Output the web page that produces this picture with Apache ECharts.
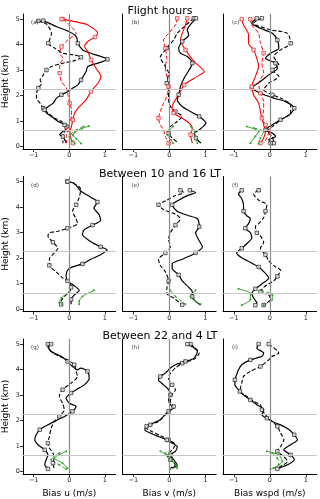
<!DOCTYPE html>
<html>
<head>
<meta charset="utf-8">
<script src="https://cdn.jsdelivr.net/npm/echarts@6/dist/echarts.min.js"></script>
<style>
  html, body { margin: 0; padding: 0; background: #fff; }
  #main { width: 320px; height: 499px; }
</style>
</head>
<body>
<div id="main"></div>
<script>
// profiles: [bias (m/s), height (km)]
var rowTitles = ['Flight hours', 'Between 10 and 16 LT', 'Between 22 and 4 LT'];
var colNames = ['Bias u (m/s)', 'Bias v (m/s)', 'Bias wspd (m/s)'];
var panelLabels = ['(a)', '(b)', '(c)', '(d)', '(e)', '(f)', '(g)', '(h)', '(i)'];
var xTicks = [-1, 0, 1];
var yTicks = [0, 1, 2, 3, 4, 5];
var refHeights = [2.25, 0.62];

// (a)
var aBlackSolid = [[-0.73,4.94],[-0.35,4.7],[0.0,4.5],[0.2,4.3],[0.24,4.05],[0.38,3.79],[0.6,3.66],[0.89,3.53],[1.07,3.42],[0.8,3.27],[0.52,3.14],[0.47,2.94],[0.33,2.61],[0.24,2.42],[0.1,2.29],[-0.04,2.16],[-0.22,2.03],[-0.36,1.9],[-0.45,1.7],[-0.59,1.57],[-0.69,1.44],[-0.64,1.31],[-0.5,1.18],[-0.31,0.98],[-0.13,0.85],[-0.04,0.72],[-0.18,0.59],[-0.27,0.46],[-0.18,0.39],[-0.13,0.26],[-0.08,0.13]];
var aBlackDash = [[-0.87,4.93],[-0.64,4.8],[-0.5,4.44],[-0.55,4.2],[-0.59,4.05],[-0.41,3.86],[-0.18,3.66],[0.15,3.59],[0.33,3.5],[0.15,3.37],[-0.18,3.27],[-0.5,3.14],[-0.64,3.0],[-0.73,2.81],[-0.82,2.61],[-0.78,2.48],[-0.87,2.29],[-0.92,2.09],[-0.92,1.9],[-0.82,1.7],[-0.73,1.5],[-0.59,1.31],[-0.41,1.11],[-0.22,0.98],[-0.08,0.78],[-0.13,0.59],[-0.18,0.39],[-0.18,0.13]];
var aRedSolid = [[-0.22,5.0],[0.05,4.93],[0.52,4.77],[0.8,4.44],[0.72,4.3],[0.52,4.12],[0.43,3.92],[0.52,3.73],[0.61,3.4],[0.75,3.07],[0.89,2.75],[0.8,2.48],[0.61,2.16],[0.47,1.83],[0.29,1.57],[0.15,1.31],[0.1,1.05],[0.06,0.78],[0.01,0.52],[0.06,0.26],[0.1,0.13]];
var aRedDash = [[-0.18,5.0],[-0.04,4.83],[0.19,4.44],[-0.04,4.18],[-0.22,3.92],[-0.27,3.66],[-0.18,3.46],[-0.27,3.2],[-0.27,2.88],[-0.22,2.55],[-0.08,2.29],[-0.04,2.03],[0.01,1.7],[0.06,1.44],[0.06,1.18],[0.01,0.92],[-0.04,0.65],[-0.08,0.39],[-0.08,0.13]];
var aGreenSolid = [[0.55,0.8],[0.35,0.7],[0.15,0.55],[0.1,0.45],[0.2,0.3],[0.33,0.12]];
var aGreenDash = [[0.4,0.78],[0.2,0.65],[0.05,0.5],[0.0,0.38],[0.1,0.2],[0.15,0.12]];

// (b)
var bBlackSolid = [[0.74,5.03],[0.62,4.84],[0.5,4.58],[0.54,4.38],[0.36,4.12],[0.26,3.86],[0.31,3.66],[0.5,3.53],[0.64,3.27],[0.55,3.0],[0.41,2.68],[0.31,2.35],[0.26,2.03],[0.22,1.83],[0.36,1.57],[0.59,1.37],[0.83,1.18],[1.02,0.92],[0.83,0.65],[0.69,0.52],[0.74,0.33],[0.88,0.13]];
var bBlackDash = [[0.68,5.03],[0.45,4.75],[0.22,4.44],[0.12,4.18],[-0.07,3.86],[-0.25,3.5],[-0.11,3.14],[-0.02,2.88],[-0.07,2.48],[-0.02,2.16],[-0.02,1.83],[0.03,1.57],[0.17,1.37],[0.36,1.18],[0.22,0.98],[0.03,0.78],[-0.02,0.52],[0.08,0.33],[0.26,0.13]];
var bRedSolid = [[0.5,5.03],[0.45,4.77],[0.36,4.44],[0.31,4.18],[0.45,3.79],[0.69,3.33],[0.97,2.94],[0.69,2.68],[0.41,2.42],[0.31,2.16],[0.17,1.83],[0.08,1.57],[0.12,1.31],[0.36,1.11],[0.55,0.92],[0.64,0.72],[0.59,0.46],[0.64,0.13]];
var bRedDash = [[0.22,5.03],[0.17,4.77],[-0.02,4.44],[-0.16,4.18],[-0.11,3.86],[-0.07,3.46],[-0.11,3.14],[-0.07,2.75],[-0.02,2.35],[-0.07,1.96],[-0.16,1.7],[-0.25,1.37],[-0.3,1.11],[-0.25,0.85],[-0.16,0.65],[-0.11,0.39],[-0.02,0.13]];
var bGreenSolid = [[0.6,0.78],[0.7,0.6],[0.72,0.4],[0.78,0.13]];
var bGreenDash = [[0.1,0.78],[0.0,0.62],[-0.05,0.45],[0.05,0.25],[0.1,0.13]];

// (c)
var cBlackSolid = [[-0.36,5.03],[-0.5,4.84],[-0.26,4.64],[0.07,4.44],[0.21,4.18],[0.25,3.86],[0.02,3.66],[-0.12,3.46],[0.16,3.27],[0.21,3.07],[-0.03,2.81],[-0.26,2.55],[-0.5,2.29],[-0.26,2.09],[0.11,1.9],[0.44,1.76],[0.68,1.5],[0.54,1.24],[0.3,1.05],[0.07,0.85],[-0.12,0.65],[0.07,0.52],[0.16,0.39],[-0.03,0.26],[0.02,0.13]];
var cBlackDash = [[-0.22,5.03],[-0.45,4.84],[0.02,4.58],[0.49,4.44],[0.58,4.05],[0.3,3.79],[0.11,3.53],[0.25,3.2],[0.07,3.0],[0.25,2.75],[-0.03,2.48],[-0.17,2.22],[0.07,2.03],[0.3,1.9],[0.58,1.63],[0.58,1.31],[0.3,1.05],[0.07,0.78],[-0.08,0.59],[0.07,0.39],[0.11,0.13]];
var cRedSolid = [[-0.78,5.0],[-0.73,4.77],[-0.59,4.38],[-0.59,4.05],[-0.45,3.79],[-0.36,3.46],[-0.31,3.14],[-0.4,2.75],[-0.5,2.35],[-0.45,2.03],[-0.31,1.7],[-0.26,1.37],[-0.22,1.11],[-0.17,0.85],[-0.12,0.59],[-0.17,0.33],[-0.26,0.13]];
var cRedDash = [[-0.54,5.0],[-0.5,4.77],[-0.31,4.44],[-0.26,4.05],[-0.17,3.66],[-0.22,3.27],[-0.17,2.88],[-0.31,2.48],[-0.26,2.09],[-0.17,1.76],[-0.17,1.44],[-0.22,1.11],[-0.12,0.85],[-0.03,0.59],[-0.08,0.33],[-0.17,0.13]];
var cGreenSolid = [[-0.64,0.78],[-0.31,0.59],[-0.4,0.4],[-0.54,0.13]];
var cGreenDash = [[-0.45,0.72],[-0.17,0.59],[-0.26,0.33],[-0.31,0.13]];

// (d)
var dBlackSolid = [[-0.05,5.0],[0.14,4.93],[0.32,4.63],[0.6,4.39],[0.79,4.2],[0.69,3.96],[0.83,3.72],[0.88,3.48],[0.65,3.29],[0.42,3.11],[0.37,2.93],[0.56,2.68],[0.88,2.44],[1.06,2.32],[0.88,2.13],[0.6,1.95],[0.37,1.77],[0.09,1.65],[-0.05,1.52],[-0.09,1.28],[-0.05,1.1],[0.14,0.91],[0.28,0.73],[0.14,0.55],[0.05,0.37],[0.05,0.18]];
var dBlackDash = [[-0.05,5.0],[0.19,4.88],[0.32,4.7],[0.28,4.39],[0.19,4.09],[0.09,3.84],[0.19,3.54],[0.23,3.35],[-0.05,3.17],[-0.32,3.05],[-0.56,2.99],[-0.6,2.87],[-0.46,2.62],[-0.32,2.38],[-0.42,2.2],[-0.56,1.95],[-0.56,1.71],[-0.37,1.46],[-0.19,1.22],[0,1.04],[0.05,0.85],[0,0.67],[-0.14,0.49],[-0.23,0.3],[-0.23,0.18]];
var dGreenSolid = [[0.69,0.73],[0.37,0.49],[0.28,0.3],[0.28,0.18]];
var dGreenDash = [[0,0.67],[-0.23,0.43],[-0.28,0.24],[-0.2,0.18]];

// (e)
var eBlackSolid = [[0.57,4.66],[0.73,4.57],[0.5,4.45],[0.26,4.27],[0.08,4.09],[0.22,3.84],[0.54,3.66],[0.78,3.54],[0.83,3.23],[0.73,2.99],[0.83,2.68],[0.92,2.44],[0.73,2.2],[0.36,1.95],[0.08,1.77],[0.08,1.59],[0.26,1.34],[0.36,1.1],[0.54,0.85],[0.64,0.67],[0.64,0.49],[0.73,0.3],[0.87,0.16]];
var eBlackDash = [[0.31,4.66],[0.4,4.57],[0.17,4.45],[-0.07,4.27],[-0.3,4.09],[-0.16,3.9],[0.17,3.72],[0.31,3.54],[0.17,3.29],[0.03,2.99],[-0.02,2.74],[0.03,2.44],[-0.11,2.2],[-0.3,1.95],[-0.25,1.71],[-0.11,1.46],[-0.02,1.1],[-0.07,0.79],[-0.07,0.61],[0.12,0.43],[0.36,0.16]];
var eGreenSolid = [[0.73,0.73],[0.59,0.49],[0.87,0.18]];
var eGreenDash = [[0.03,0.73],[0.17,0.49],[0.45,0.18]];

// (f)
var fBlackSolid = [[-0.78,4.66],[-0.87,4.51],[-0.78,4.33],[-0.73,4.09],[-0.73,3.84],[-0.64,3.66],[-0.54,3.54],[-0.59,3.35],[-0.68,3.17],[-0.54,2.99],[-0.5,2.8],[-0.64,2.56],[-0.78,2.38],[-0.92,2.2],[-0.78,2.01],[-0.54,1.83],[-0.31,1.65],[-0.12,1.4],[-0.03,1.22],[-0.22,0.98],[-0.4,0.79],[-0.5,0.61],[-0.45,0.43],[-0.36,0.24],[-0.4,0.15]];
var fBlackDash = [[-0.31,4.66],[-0.45,4.51],[-0.31,4.27],[-0.08,4.09],[-0.12,3.84],[-0.17,3.59],[-0.31,3.35],[-0.4,3.23],[-0.36,2.99],[-0.26,2.87],[-0.17,2.62],[-0.26,2.38],[-0.12,2.13],[-0.03,1.89],[0.16,1.65],[0.3,1.52],[0.21,1.28],[0.11,1.1],[-0.03,0.98],[-0.17,0.85],[-0.26,0.67],[-0.03,0.55],[0.02,0.37],[-0.08,0.24],[-0.17,0.15]];
var fGreenSolid = [[-0.87,0.79],[-0.54,0.61],[-0.54,0.37],[-0.78,0.15]];
var fGreenDash = [[-0.26,0.73],[0.07,0.55],[0.07,0.37],[-0.17,0.15]];

// (g)
var gBlackSolid = [[-0.51,5.0],[-0.6,4.9],[-0.51,4.71],[-0.23,4.52],[-0.05,4.32],[0.09,4.12],[0.23,3.99],[0.32,4.06],[0.51,3.93],[0.56,3.66],[0.42,3.4],[0.19,3.21],[0.05,3.08],[-0.09,2.88],[0,2.68],[0.19,2.55],[0.09,2.36],[-0.05,2.23],[-0.32,2.03],[-0.6,1.83],[-0.83,1.64],[-0.93,1.44],[-0.97,1.24],[-0.88,1.05],[-0.69,0.85],[-0.6,0.65],[-0.65,0.46],[-0.69,0.26],[-0.6,0.1]];
var gBlackDash = [[-0.6,5.0],[-0.51,4.71],[-0.28,4.52],[-0.05,4.38],[0.14,4.19],[0.19,3.93],[0.23,3.73],[0.05,3.47],[-0.19,3.21],[-0.28,2.95],[-0.19,2.68],[-0.14,2.42],[-0.28,2.16],[-0.42,1.96],[-0.51,1.7],[-0.56,1.37],[-0.6,1.11],[-0.56,0.92],[-0.46,0.72],[-0.42,0.52],[-0.46,0.33],[-0.42,0.1]];
var gGreenSolid = [[-0.09,0.79],[-0.42,0.52],[-0.19,0.33],[-0.05,0.13]];
var gGreenDash = [[-0.28,0.72],[-0.51,0.46],[-0.28,0.26],[-0.09,0.1]];

// (h)
var hBlackSolid = [[0.5,5.0],[0.64,4.9],[0.78,4.71],[0.69,4.45],[0.45,4.32],[0.17,4.19],[0.03,4.06],[-0.11,3.86],[-0.25,3.73],[-0.3,3.6],[-0.16,3.4],[-0.02,3.21],[0.03,3.01],[-0.02,2.81],[0.03,2.62],[0.12,2.49],[-0.02,2.36],[-0.16,2.16],[-0.25,2.03],[-0.44,1.9],[-0.63,1.77],[-0.68,1.64],[-0.53,1.51],[-0.3,1.37],[-0.07,1.24],[0.08,1.11],[0.22,0.98],[0.17,0.79],[0.03,0.65],[0.12,0.46],[0.22,0.26],[0.08,0.13]];
var hBlackDash = [[0.59,5.0],[0.73,4.84],[0.83,4.65],[0.69,4.4],[0.36,4.25],[0.17,4.06],[0.03,3.86],[-0.02,3.66],[0.08,3.4],[0.17,3.21],[0.08,3.01],[0.03,2.75],[0.12,2.55],[-0.02,2.36],[-0.16,2.16],[-0.3,1.96],[-0.53,1.83],[-0.63,1.7],[-0.49,1.57],[-0.25,1.41],[-0.02,1.24],[0.17,1.05],[0.08,0.85],[-0.07,0.65],[0.03,0.46],[0.17,0.26],[0.03,0.13]];
var hGreenSolid = [[-0.25,0.79],[-0.02,0.59],[0.22,0.13]];
var hGreenDash = [[-0.11,0.72],[0.08,0.46],[0.22,0.2],[0.03,0.1]];

// (i)
var iBlackSolid = [[-0.31,5.0],[-0.36,4.84],[-0.17,4.65],[-0.22,4.52],[-0.54,4.38],[-0.78,4.19],[-0.87,3.99],[-0.92,3.8],[-0.97,3.6],[-0.97,3.4],[-0.87,3.21],[-0.73,3.01],[-0.54,2.81],[-0.36,2.62],[-0.17,2.42],[-0.22,2.23],[-0.08,2.09],[0.07,1.96],[0.3,1.83],[0.54,1.64],[0.68,1.44],[0.77,1.24],[0.58,1.05],[0.39,0.85],[0.58,0.65],[0.68,0.46],[0.49,0.26],[0.25,0.13]];
var iBlackDash = [[-0.03,5.0],[0.25,4.65],[0.07,4.52],[-0.03,4.38],[-0.26,4.12],[-0.54,3.93],[-0.73,3.73],[-0.78,3.47],[-0.83,3.14],[-0.64,2.95],[-0.45,2.75],[-0.26,2.62],[-0.22,2.42],[-0.12,2.23],[-0.03,2.09],[0.07,1.96],[0.21,1.77],[0.3,1.51],[0.39,1.24],[0.3,0.98],[0.21,0.79],[0.39,0.59],[0.49,0.39],[0.3,0.2],[0.21,0.1]];
var iGreenSolid = [[-0.08,0.79],[0.25,0.65],[0.35,0.39],[0.11,0.13]];
var iGreenDash = [[0.07,0.72],[0.21,0.52],[0.25,0.26],[0.02,0.1]];

var panels = [
    {bs: aBlackSolid, bd: aBlackDash, rs: aRedSolid, rd: aRedDash, gs: aGreenSolid, gd: aGreenDash},
    {bs: bBlackSolid, bd: bBlackDash, rs: bRedSolid, rd: bRedDash, gs: bGreenSolid, gd: bGreenDash},
    {bs: cBlackSolid, bd: cBlackDash, rs: cRedSolid, rd: cRedDash, gs: cGreenSolid, gd: cGreenDash},
    {bs: dBlackSolid, bd: dBlackDash, gs: dGreenSolid, gd: dGreenDash},
    {bs: eBlackSolid, bd: eBlackDash, gs: eGreenSolid, gd: eGreenDash},
    {bs: fBlackSolid, bd: fBlackDash, gs: fGreenSolid, gd: fGreenDash},
    {bs: gBlackSolid, bd: gBlackDash, gs: gGreenSolid, gd: gGreenDash},
    {bs: hBlackSolid, bd: hBlackDash, gs: hGreenSolid, gd: hGreenDash},
    {bs: iBlackSolid, bd: iBlackDash, gs: iGreenSolid, gd: iGreenDash}
];

var FONT = 'DejaVu Sans';
var colLeft = [22, 122.5, 223];
var rowTop = [14, 176.5, 339];
var W = 93.6, H = 135;
var BLACK = '#000', RED = '#ff0000', GREEN = '#33a02c';

var chart = echarts.init(document.getElementById('main'), null, {renderer: 'canvas'});

var grids = [], xAxes = [], yAxes = [], series = [], titles = [];

function fmtMinus(v) { return String(v).replace('-', '\u2212'); }

function profile(data, idx, color, dashed, width, small) {
    return {
        type: 'line',
        xAxisIndex: idx,
        yAxisIndex: idx,
        data: data,
        z: 3,
        silent: true,
        animation: false,
        smooth: 0.25,
        showSymbol: true,
        showAllSymbol: true,
        symbol: function (v, p) {
            if (small) return 'circle';
            return p.dataIndex % 4 === 0 ? 'rect' : 'none';
        },
        symbolSize: small ? 2 : 3.5,
        lineStyle: {color: color, width: width, type: dashed ? [4, 2] : 'solid'},
        itemStyle: small
            ? {color: color}
            : {color: 'rgba(225,225,225,0.9)', borderColor: color, borderWidth: 0.6}
    };
}

rowTitles.forEach(function (t, r) {
    titles.push({
        text: t, left: 'center', top: rowTop[r] - 13,
        textStyle: {fontFamily: FONT, fontSize: 11, fontWeight: 'normal', color: '#000'}
    });
});

panels.forEach(function (p, i) {
    var r = Math.floor(i / 3), c = i % 3;
    grids.push({left: colLeft[c], top: rowTop[r], width: W, height: H, containLabel: false});
    xAxes.push({
        gridIndex: i, type: 'value', min: -1.3, max: 1.3,
        name: r === 2 ? colNames[c] : '', nameLocation: 'middle', nameGap: 15,
        nameTextStyle: {fontFamily: FONT, fontSize: 9, color: '#000'},
        axisLine: {show: true, onZero: false, lineStyle: {color: '#000', width: 1}},
        axisTick: {show: true, customValues: xTicks, length: 3, lineStyle: {color: '#000', width: 0.8}},
        axisLabel: {customValues: xTicks, fontFamily: FONT, fontSize: 6.5, color: '#222', margin: 3, formatter: fmtMinus},
        splitLine: {show: false}
    });
    yAxes.push({
        gridIndex: i, type: 'value', min: -0.1, max: 5.2,
        name: c === 0 ? 'Height (km)' : '', nameLocation: 'middle', nameGap: 13, nameRotate: 90,
        nameTextStyle: {fontFamily: FONT, fontSize: 9, color: '#000'},
        axisLine: {show: true, onZero: false, lineStyle: {color: '#000', width: 1}},
        axisTick: {show: c === 0, customValues: yTicks, length: 3, lineStyle: {color: '#000', width: 0.8}},
        axisLabel: {show: c === 0, customValues: yTicks, fontFamily: FONT, fontSize: 6.5, color: '#222', margin: 3},
        splitLine: {show: false}
    });
    titles.push({
        text: panelLabels[i], left: colLeft[c] + 4, top: rowTop[r] + 1,
        textStyle: {fontFamily: FONT, fontSize: 5.5, fontWeight: 'normal', color: '#333'}
    });

    // reference lines
    series.push({
        type: 'line', xAxisIndex: i, yAxisIndex: i, data: [], z: 1, silent: true, animation: false,
        markLine: {
            silent: true, symbol: 'none', animation: false, label: {show: false},
            data: [
                {xAxis: 0, lineStyle: {color: '#8a8a8a', width: 1.2, type: 'solid'}}
            ].concat(refHeights.map(function (h) {
                return {yAxis: h, lineStyle: {color: '#c4c4c4', width: 1, type: 'solid'}};
            }))
        }
    });

    series.push(profile(p.bd, i, BLACK, true, 1.1));
    series.push(profile(p.bs, i, BLACK, false, 1.2));
    if (p.rs) {
        series.push(profile(p.rd, i, RED, true, 1.0));
        series.push(profile(p.rs, i, RED, false, 1.1));
    }
    series.push(profile(p.gd, i, GREEN, true, 1.0, true));
    series.push(profile(p.gs, i, GREEN, false, 1.0, true));
});

var option = {
    backgroundColor: '#fff',
    animation: false,
    title: titles,
    grid: grids,
    xAxis: xAxes,
    yAxis: yAxes,
    series: series
};

chart.setOption(option);
</script>
</body>
</html>
